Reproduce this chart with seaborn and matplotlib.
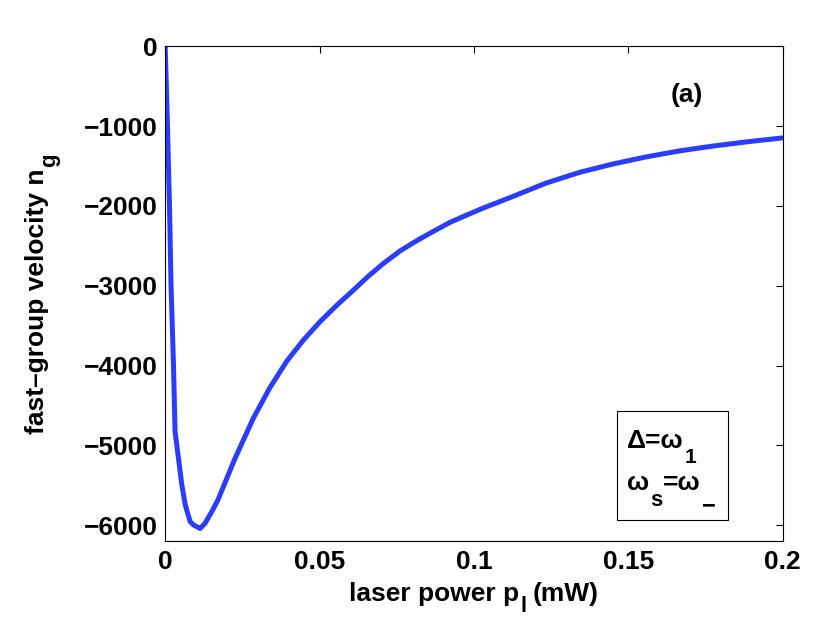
import matplotlib
matplotlib.use("Agg")
import matplotlib.pyplot as plt
import seaborn as sns
from matplotlib.patches import Rectangle
from matplotlib.transforms import IdentityTransform

# ---- data ----
power_mw = [0, 0.00075, 0.0014, 0.0019, 0.0027, 0.0032, 0.0043, 0.0054, 0.0065,
            0.0081, 0.0092, 0.0113, 0.0129, 0.0151, 0.0170, 0.02265, 0.02858,
            0.03398, 0.03938, 0.04477, 0.05016, 0.05556, 0.06095, 0.0658,
            0.0707, 0.0761, 0.0814, 0.0868, 0.0922, 0.0976, 0.1030, 0.1127,
            0.1235, 0.1343, 0.1451, 0.1559, 0.1667, 0.1774, 0.1882, 0.2]
n_g = [0, -1000, -2000, -3000, -4000, -4824, -5160, -5494, -5745,
       -5955, -5996, -6040, -5976, -5829, -5690, -5160, -4657,
       -4272, -3945, -3680, -3450, -3245, -3055, -2880,
       -2720, -2563, -2437, -2320, -2207, -2115, -2027, -1880,
       -1712, -1579, -1474, -1385, -1310, -1250, -1198, -1148]

x_ticks = [0, 0.05, 0.1, 0.15, 0.2]
x_tick_labels = ["0", "0.05", "0.1", "0.15", "0.2"]
y_ticks = [0, -1000, -2000, -3000, -4000, -5000, -6000]
y_tick_labels = ["0", "\u22121000", "\u22122000", "\u22123000", "\u22124000", "\u22125000", "\u22126000"]

sns.set_style("white")
plt.rcParams["font.family"] = ["Liberation Sans", "DejaVu Sans"]
for k in ["text.color", "axes.labelcolor", "xtick.color", "ytick.color", "axes.edgecolor"]:
    plt.rcParams[k] = "black"

FS = 19

fig = plt.figure(figsize=(8.3, 6.25), dpi=100)
ax = fig.add_axes([0.199, 0.134, 0.744, 0.792])

sns.lineplot(x=power_mw, y=n_g, ax=ax, color="#2a3dfd", linewidth=3.6, sort=False)

ax.set_xlim(0, 0.2)
ax.set_ylim(-6200, 0)
ax.set_xticks(x_ticks)
ax.set_xticklabels(x_tick_labels)
ax.set_yticks(y_ticks)
ax.set_yticklabels(y_tick_labels)

for s in ax.spines.values():
    s.set_visible(True)
    s.set_color("black")
    s.set_linewidth(0.8)

ax.tick_params(axis="both", which="major", direction="in", length=5, width=0.8,
               top=True, right=True, labelsize=FS, colors="black")
ax.tick_params(axis="x", pad=6)
ax.tick_params(axis="y", pad=5.5)
for lab in ax.get_xticklabels() + ax.get_yticklabels():
    lab.set_fontweight("bold")

ax.text(0.169, -616, "(a)", fontsize=FS, fontweight="bold", ha="center", va="center")

ax.add_patch(Rectangle((0.731, 0.0424), 0.1805, 0.2206, transform=ax.transAxes,
                       fill=False, edgecolor="black", linewidth=0.8, zorder=5))


def chain_text(pieces, x0, y0, rotation=0, center=False):
    """pieces: (text, fontsize, baseline shift px, gap px before). Pixel coords from bottom-left."""
    r = fig.canvas.get_renderer()
    arts, widths = [], []
    for s, size, dy, gap in pieces:
        t = fig.text(0, 0, s, fontsize=size, fontweight="bold", color="black",
                     transform=IdentityTransform(), ha="left", va="baseline",
                     rotation_mode="anchor")
        widths.append(t.get_window_extent(r).width)
        arts.append(t)
    total = sum(w + p[3] for w, p in zip(widths, pieces))
    pos = (y0 if rotation else x0) - (total / 2 if center else 0)
    for t, w, (s, size, dy, gap) in zip(arts, widths, pieces):
        pos += gap
        if rotation:
            t.set_rotation(rotation)
            t.set_position((x0 - dy, pos))
        else:
            t.set_position((pos, y0 + dy))
        pos += w


H = 625
# x label
chain_text([("laser power p", FS, 0, 0), ("l", 16, -11, 1), ("(mW)", FS, 0, 6)],
           474, H - 601, center=True)
# y label (rotated)
chain_text([("fast\u2013group velocity n", FS, 0, 0), ("g", 16, -11, 1)],
           44, H - 293.5, rotation=90, center=True)
# annotation box
chain_text([("\u0394=\u03c9", FS, 0, 0), ("1", 15, -15, 1)], 627, H - 448)
chain_text([("\u03c9", FS, 0, 0), ("s", 16, -16, 1), ("=\u03c9", FS, 0, 1), ("\u2212", 17, -22, 1)],
           627, H - 490)

fig.savefig("out.png", dpi=100, facecolor="white")
